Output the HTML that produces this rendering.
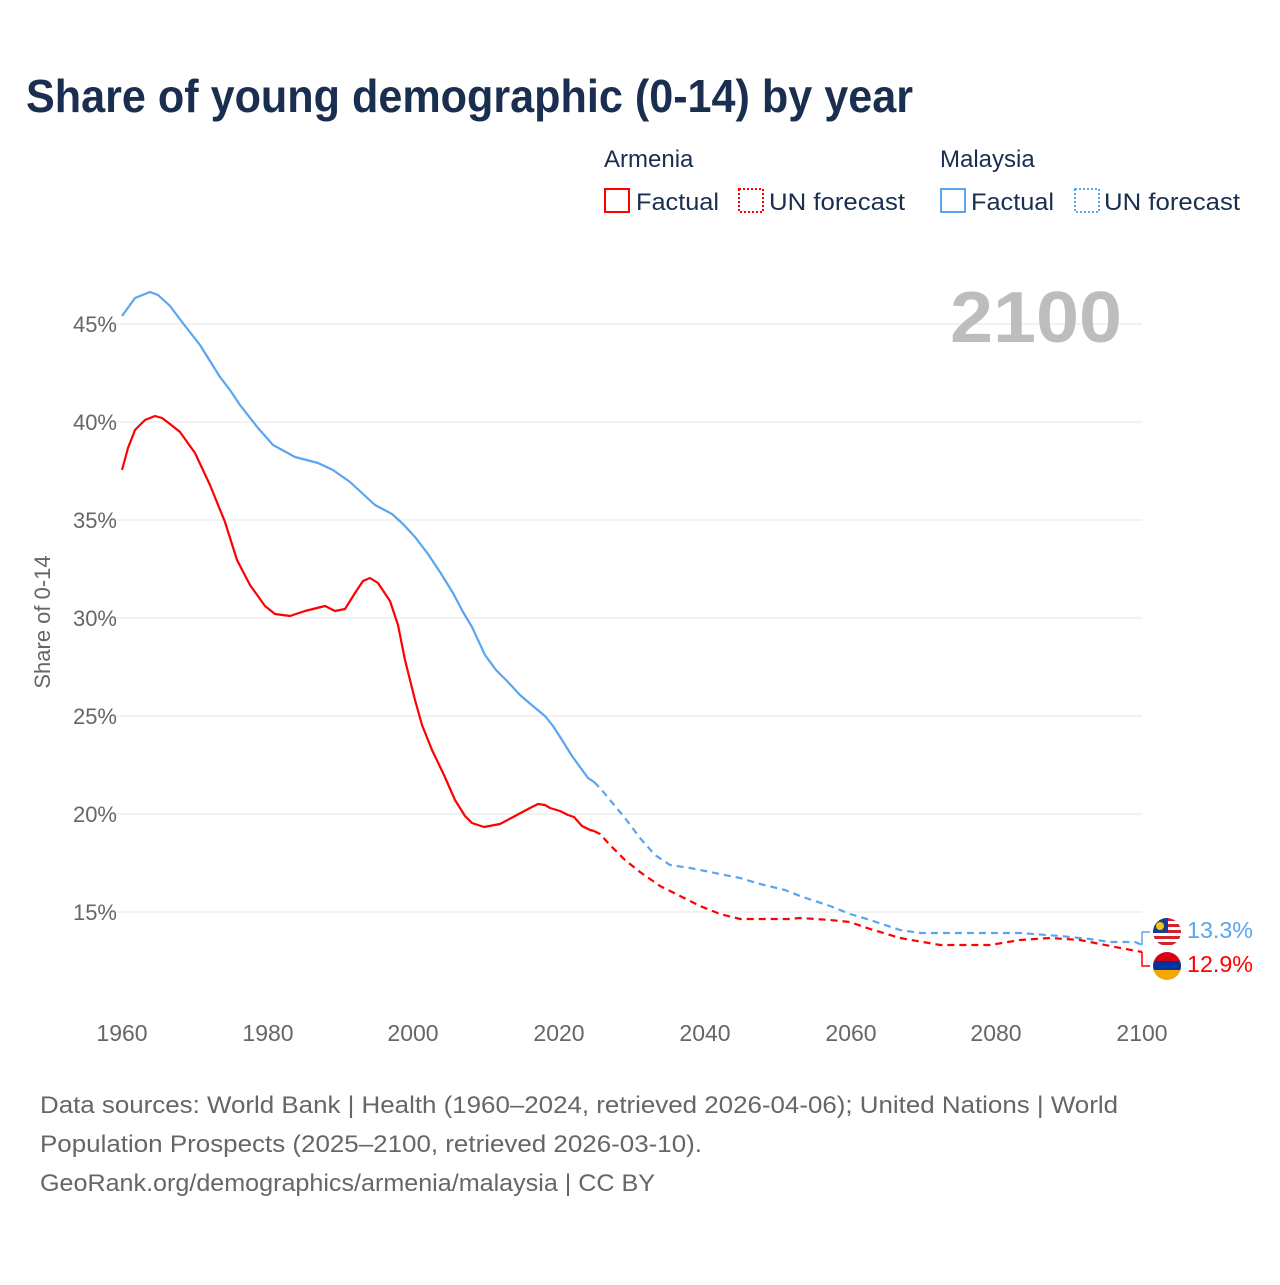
<!DOCTYPE html>
<html><head><meta charset="utf-8"><style>
body{margin:0;background:#fff;font-family:"Liberation Sans",sans-serif}
</style></head><body>
<svg width="1280" height="1280" xmlns="http://www.w3.org/2000/svg" font-family="Liberation Sans, sans-serif">
<rect width="1280" height="1280" fill="#fff"/>
<text x="26" y="112" font-size="46" font-weight="bold" fill="#1a2e4f" textLength="887" lengthAdjust="spacingAndGlyphs">Share of young demographic (0-14) by year</text>
<g font-size="24" fill="#1a2e4f">
<text x="604" y="167">Armenia</text>
<text x="940" y="167">Malaysia</text>
<rect x="605" y="189" width="24" height="23" fill="none" stroke="#f00" stroke-width="2"/>
<text x="636" y="210" textLength="83" lengthAdjust="spacingAndGlyphs">Factual</text>
<rect x="739" y="189" width="24" height="23" fill="none" stroke="#f00" stroke-width="2" stroke-dasharray="2,2"/>
<text x="769" y="210" textLength="136" lengthAdjust="spacingAndGlyphs">UN forecast</text>
<rect x="941" y="189" width="24" height="23" fill="none" stroke="#5aa6ee" stroke-width="2"/>
<text x="971" y="210" textLength="83" lengthAdjust="spacingAndGlyphs">Factual</text>
<rect x="1075" y="189" width="24" height="23" fill="none" stroke="#5aa6ee" stroke-width="2" stroke-dasharray="2,2"/>
<text x="1104" y="210" textLength="136" lengthAdjust="spacingAndGlyphs">UN forecast</text>
</g>
<g stroke="#e6e6e6" stroke-width="1">
<line x1="110" x2="1142" y1="324" y2="324"/><line x1="110" x2="1142" y1="422" y2="422"/>
<line x1="110" x2="1142" y1="520" y2="520"/><line x1="110" x2="1142" y1="618" y2="618"/>
<line x1="110" x2="1142" y1="716" y2="716"/><line x1="110" x2="1142" y1="814" y2="814"/>
<line x1="110" x2="1142" y1="912" y2="912"/>
</g>
<g font-size="22" fill="#666" text-anchor="end">
<text x="117" y="332">45%</text><text x="117" y="430">40%</text><text x="117" y="528">35%</text>
<text x="117" y="626">30%</text><text x="117" y="724">25%</text><text x="117" y="822">20%</text><text x="117" y="920">15%</text>
</g>
<g font-size="23" fill="#666" text-anchor="middle">
<text x="122" y="1041">1960</text><text x="268" y="1041">1980</text><text x="413" y="1041">2000</text>
<text x="559" y="1041">2020</text><text x="705" y="1041">2040</text><text x="851" y="1041">2060</text>
<text x="996" y="1041">2080</text><text x="1142" y="1041">2100</text>
</g>
<text transform="translate(50,622) rotate(-90)" font-size="22" fill="#666" text-anchor="middle">Share of 0-14</text>
<text x="1122" y="342" font-size="72" font-weight="bold" fill="#bdbdbd" text-anchor="end" textLength="172" lengthAdjust="spacingAndGlyphs">2100</text>
<g fill="none" stroke-width="2.2" stroke-linejoin="round">
<polyline stroke="#5aa6ee" points="122,316 135,298 150,292 158,295 170,306 182,322 200,345 220,377 230,390 240,405 258,428 273,445 295,457 318,463 333,470 350,482 375,505 392,514 403,524 415,537 428,554 440,572 453,593 463,612 472,627 485,655 496,670 508,682 520,695 534,707 545,716 553,726 562,740 572,756 580,767 588,778 594,782"/>
<polyline stroke="#5aa6ee" stroke-dasharray="7,5" points="594,782 600,788 610,800 625,818 640,838 655,855 670,865 690,868 705,871 720,874 740,878 760,884 785,890 800,896 830,906 850,914 870,920 900,930 920,933 960,933 1020,933 1060,936 1090,939 1110,942 1135,942 1142,945"/>
<polyline stroke="#f00" points="122,470 128,448 135,430 145,420 155,416 162,418 170,424 180,432 195,453 210,485 225,522 237,560 250,585 265,606 275,614 290,616 305,611 325,606 335,611 345,609 355,593 363,581 370,578 378,583 390,601 398,625 405,660 415,700 422,725 432,750 444,775 455,800 465,816 472,823 484,827 500,824 515,816 530,808 538,804 545,805 550,808 560,811 568,815 574,817 582,826 590,830 594,831"/>
<polyline stroke="#f00" stroke-dasharray="7,5" points="594,831 600,834 610,845 625,860 640,872 660,886 680,896 700,906 720,914 740,919 790,919 800,918 830,920 850,922 870,929 900,938 940,945 990,945 1020,940 1050,938 1080,940 1110,946 1142,952"/>
<polyline stroke="#5aa6ee" stroke-width="1.5" points="1142,945 1142,932 1150,932"/>
<polyline stroke="#f00" stroke-width="1.5" points="1142,952 1142,966 1150,966"/>
</g>
<defs><clipPath id="c1"><circle cx="1167" cy="932" r="14"/></clipPath><clipPath id="c2"><circle cx="1167" cy="966" r="14"/></clipPath></defs>
<g clip-path="url(#c1)">
<rect x="1153" y="918" width="28" height="28" fill="#fff"/>
<rect x="1153" y="918" width="28" height="3" fill="#d6202a"/><rect x="1153" y="924" width="28" height="3" fill="#d6202a"/>
<rect x="1153" y="930" width="28" height="3" fill="#d6202a"/><rect x="1153" y="936" width="28" height="3" fill="#d6202a"/>
<rect x="1153" y="942" width="28" height="3" fill="#d6202a"/>
<rect x="1153" y="918" width="15" height="15" fill="#1a3c8e"/>
<circle cx="1160" cy="926" r="4" fill="#f5c518"/>
</g>
<g clip-path="url(#c2)">
<rect x="1153" y="952" width="28" height="10" fill="#d90012"/>
<rect x="1153" y="961" width="28" height="10" fill="#0033a0"/>
<rect x="1153" y="970" width="28" height="10" fill="#f2a800"/>
</g>
<text x="1187" y="938" font-size="23" fill="#5aa6ee" textLength="66" lengthAdjust="spacingAndGlyphs">13.3%</text>
<text x="1187" y="972" font-size="23" fill="#f00" textLength="66" lengthAdjust="spacingAndGlyphs">12.9%</text>
<g font-size="24" fill="#666">
<text x="40" y="1113" textLength="1078" lengthAdjust="spacingAndGlyphs">Data sources: World Bank | Health (1960–2024, retrieved 2026-04-06); United Nations | World</text>
<text x="40" y="1152" textLength="662" lengthAdjust="spacingAndGlyphs">Population Prospects (2025–2100, retrieved 2026-03-10).</text>
<text x="40" y="1191" textLength="615" lengthAdjust="spacingAndGlyphs">GeoRank.org/demographics/armenia/malaysia | CC BY</text>
</g>
</svg>
</body></html>
